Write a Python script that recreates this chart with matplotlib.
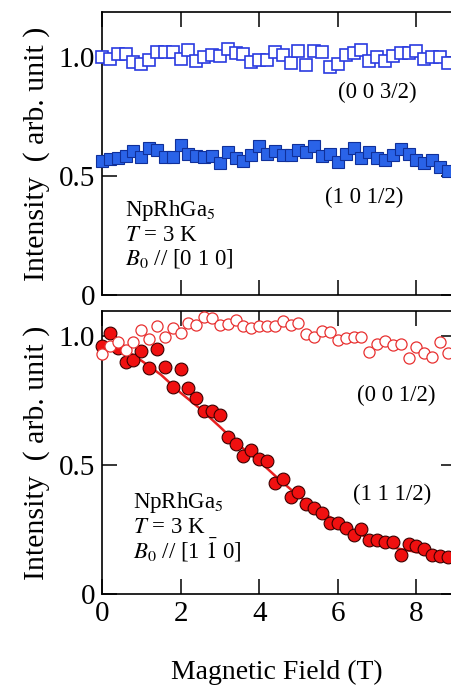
import numpy as np
import matplotlib
matplotlib.use("Agg")
import matplotlib.pyplot as plt

plt.rcParams['font.family'] = ['Liberation Serif', 'DejaVu Serif']
plt.rcParams['mathtext.fontset'] = 'stix'

# ---------------- data ----------------
field = [0.0, 0.2, 0.4, 0.6, 0.8, 1.0, 1.2, 1.4, 1.6, 1.8, 2.0, 2.2, 2.4, 2.6, 2.8,
         3.0, 3.2, 3.4, 3.6, 3.8, 4.0, 4.2, 4.4, 4.6, 4.8, 5.0, 5.2, 5.4, 5.6, 5.8,
         6.0, 6.2, 6.4, 6.6, 6.8, 7.0, 7.2, 7.4, 7.6, 7.8, 8.0, 8.2, 8.4, 8.6, 8.8]

# top panel: B0 // [0 1 0]
i_003_2 = [1.000, 0.990, 1.013, 1.013, 0.980, 0.970, 0.987, 1.020, 1.020, 1.020,
           0.990, 1.030, 0.985, 1.000, 1.008, 1.005, 1.035, 1.018, 1.013, 0.980,
           0.987, 0.987, 1.020, 1.008, 0.976, 1.027, 0.966, 1.027, 1.020, 0.960,
           0.972, 1.008, 1.018, 1.030, 0.985, 1.000, 0.985, 1.005, 1.018, 1.018,
           1.027, 0.990, 1.000, 1.000, 0.976]
i_101_2 = [0.563, 0.570, 0.574, 0.584, 0.606, 0.578, 0.616, 0.609, 0.578, 0.578,
           0.630, 0.592, 0.584, 0.578, 0.584, 0.556, 0.602, 0.574, 0.564, 0.588,
           0.626, 0.592, 0.606, 0.588, 0.588, 0.609, 0.602, 0.626, 0.584, 0.592,
           0.560, 0.592, 0.616, 0.574, 0.602, 0.574, 0.567, 0.588, 0.612, 0.592,
           0.567, 0.556, 0.567, 0.539, 0.522]

# bottom panel: B0 // [1 -1 0]
i_001_2 = [0.930, 0.961, 0.978, 0.946, 0.978, 1.023, 0.987, 1.039, 0.995, 1.033,
           1.013, 1.049, 1.043, 1.075, 1.068, 1.043, 1.046, 1.062, 1.039, 1.030,
           1.039, 1.039, 1.039, 1.059, 1.043, 1.049, 1.007, 0.995, 1.020, 1.017,
           0.984, 0.991, 0.997, 0.997, 0.939, 0.969, 0.981, 0.965, 0.969, 0.913,
           0.956, 0.933, 0.917, 0.978, 0.936]
i_111_2 = [0.961, 1.013, 0.953, 0.900, 0.907, 0.942, 0.876, 0.950, 0.880, 0.802,
           0.872, 0.798, 0.760, 0.709, 0.709, 0.694, 0.609, 0.581, 0.535, 0.558,
           0.523, 0.516, 0.430, 0.446, 0.376, 0.395, 0.349, 0.333, 0.314, 0.275,
           0.275, 0.256, 0.229, 0.252, 0.209, 0.209, 0.202, 0.202, 0.151, 0.194,
           0.186, 0.174, 0.151, 0.147, 0.143]

fit_x = [0.0, 0.5, 1.0, 1.5, 2.0, 2.5, 3.0, 3.5, 4.0, 4.5, 5.0, 5.5, 6.0, 6.5,
         7.0, 7.5, 8.0, 8.5, 9.0]
fit_y = [0.975, 0.955, 0.905, 0.850, 0.780, 0.718, 0.648, 0.575, 0.515, 0.445,
         0.380, 0.325, 0.280, 0.236, 0.203, 0.177, 0.163, 0.150, 0.138]

xticks = [0, 2, 4, 6, 8]
yticks = [0, 0.5, 1.0]
ytick_labels = ['0', '0.5', '1.0']

# ---------------- figure ----------------
W, H = 452, 686
fig = plt.figure(figsize=(W / 100, H / 100), dpi=100)

left = 102 / W
width = 353.7 / W
ax1 = fig.add_axes([left, (H - 295) / H, width, 283 / H])
ax2 = fig.add_axes([left, (H - 594) / H, width, 283 / H])

tick_fs = 21
for ax, ymax in ((ax1, 1.189), (ax2, 1.097)):
    ax.set_xlim(0, 9)
    ax.set_ylim(0, ymax)
    ax.set_xticks(xticks)
    ax.set_yticks(yticks)
    ax.set_yticklabels(ytick_labels)
    ax.tick_params(direction='in', length=11, width=1.1, top=True, right=True,
                   labelsize=tick_fs, pad=5)
    for s in ax.spines.values():
        s.set_linewidth(1.2)
    ax.set_ylabel('Intensity  ( arb. unit )', fontsize=21.5, labelpad=6)
ax1.tick_params(labelbottom=False)
fig.text(276.5 / W, 7 / H, 'Magnetic Field (T)', fontsize=20,
         ha='center', va='baseline')

# top panel markers
ax1.plot(field, i_003_2, ls='none', marker='s', ms=8.0, mfc='white',
         mec='#2a3be0', mew=1.2, clip_on=False, zorder=3)
ax1.plot(field, i_101_2, ls='none', marker='s', ms=8.2, mfc='#2a63e8',
         mec='#10309a', mew=0.8, clip_on=False, zorder=3)

# bottom panel
ax2.plot(fit_x, fit_y, color='#e82020', lw=1.8, zorder=2)
ax2.plot(field, i_111_2, ls='none', marker='o', ms=9.2, mfc='#f01010',
         mec='#3a0000', mew=0.8, clip_on=False, zorder=3)
ax2.plot(field, i_001_2, ls='none', marker='o', ms=8.0, mfc='white',
         mec='#e83030', mew=0.9, clip_on=False, zorder=4)

afs = 16.5
ax1.text(7.0, 0.853, '(0 0 3/2)', fontsize=afs, ha='center', va='center')
ax1.text(6.67, 0.408, '(1 0 1/2)', fontsize=afs, ha='center', va='center')
ax1.text(0.585, 0.357, 'NpRhGa$_5$', fontsize=afs, ha='left', va='center')
ax1.text(0.585, 0.252, '$T$ = 3 K', fontsize=afs, ha='left', va='center')
ax1.text(0.585, 0.155, r'$B_\mathrm{0}$ // [0 1 0]', fontsize=afs, ha='left', va='center')

ax2.text(7.5, 0.771, '(0 0 1/2)', fontsize=afs, ha='center', va='center')
ax2.text(7.38, 0.384, '(1 1 1/2)', fontsize=afs, ha='center', va='center')
ax2.text(0.79, 0.353, 'NpRhGa$_5$', fontsize=afs, ha='left', va='center')
ax2.text(0.79, 0.256, '$T$ = 3 K', fontsize=afs, ha='left', va='center')
ax2.text(0.79, 0.170, r'$B_\mathrm{0}$ // [1 $\bar{1}$ 0]', fontsize=afs,
         ha='left', va='center')

fig.savefig('out.png', dpi=100)
